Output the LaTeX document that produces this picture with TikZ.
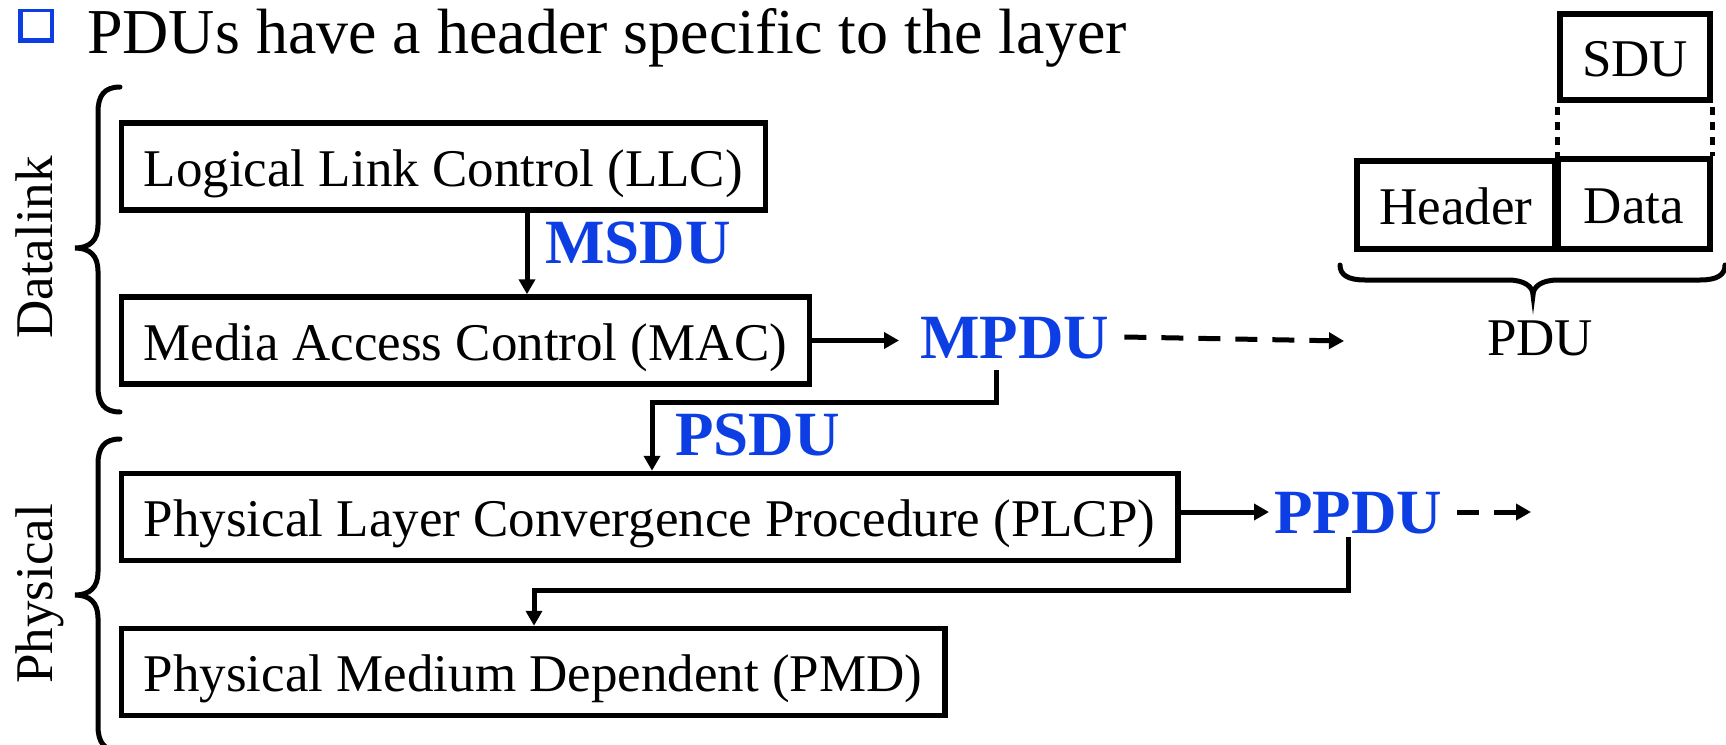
\documentclass[tikz,border=0pt]{standalone}
\usepackage{fontspec}
\setmainfont{Liberation Serif}
\usetikzlibrary{arrows.meta}
\definecolor{pblue}{RGB}{12,62,228}
\tikzset{
  layerbox/.style={draw, line width=5.5pt, font=\fontsize{53}{60}\selectfont,
    inner xsep=22.5pt, inner ysep=10pt, minimum height=87pt,
    text height=39pt, text depth=0pt, anchor=west},
  pdubox/.style={draw, line width=5.5pt, font=\fontsize{53}{60}\selectfont,
    inner xsep=0pt, inner ysep=0pt, text height=39pt, text depth=0pt},
  sidelabel/.style={font=\fontsize{53}{60}\selectfont, rotate=90, anchor=base, inner sep=0pt},
  pdulabel/.style={font=\fontsize{63}{70}\selectfont\bfseries, text=pblue,
    inner sep=0pt, text height=42pt, text depth=0pt, anchor=base west},
  arr/.style={line width=5pt, -{Triangle[length=15pt,width=16pt]}},
  dasharr/.style={arr, dash pattern=on 22pt off 15pt},
  dotline/.style={line width=5pt, dash pattern=on 8pt off 7pt, dash phase=10.5pt},
  bracepath/.style={line width=5pt, line cap=round}
}
\begin{document}
\begin{tikzpicture}[x=1pt,y=-1pt]
\useasboundingbox (0,0) rectangle (1726,744);

% bullet and title
\fill[pblue] (18,9) rectangle (54,43);
\fill[white] (23,12) rectangle (50,38);
\node[anchor=base west, inner sep=0pt, font=\fontsize{64}{72}\selectfont] (title) at (87,53) {PDUs have a header specific to the layer};

% layer boxes
\node[layerbox] (llc)  at (118.5,166.5) {Logical Link Control (LLC)};
\node[layerbox] (mac)  at (118.5,340.5) {Media Access Control (MAC)};
\node[layerbox] (plcp) at (118.5,517)   {Physical Layer Convergence Procedure (PLCP)};
\node[layerbox] (pmd)  at (118.5,672)   {Physical Medium Dependent (PMD)};

% side labels and braces
\node[sidelabel] (dl) at (52,247.5) {Datalink};
\node[sidelabel] (ph) at (52,594) {Physical};
\draw[bracepath] (120,87) .. controls (104,87) and (98,96) .. (98,112) -- (98,225)
  .. controls (98,240) and (90,248) .. (75,248) .. controls (90,248) and (98,256) .. (98,271)
  -- (98,387) .. controls (98,403) and (104,412) .. (120,412);
\draw[bracepath] (120,439) .. controls (104,439) and (98,448) .. (98,464) -- (98,572)
  .. controls (98,587) and (90,595) .. (75,595) .. controls (90,595) and (98,603) .. (98,618)
  -- (98,726) .. controls (98,742) and (104,751) .. (120,751);

% PDU labels
\node[pdulabel] (msdu) at (545,263) {MSDU};
\node[pdulabel] (mpdu) at (920,358) {MPDU};
\node[pdulabel] (psdu) at (675,455) {PSDU};
\node[pdulabel] (ppdu) at (1274,533) {PPDU};

% connectors
\draw[arr] ([xshift=408.5pt]llc.south west) -- ([xshift=408.5pt]mac.north west);
\draw[arr, shorten >=21pt] (mac.east) -- (mac.east -| mpdu.west);
\coordinate (mpduout) at (1344,341);
\draw[dasharr] ([xshift=15pt]mpdu.east) -- (mpduout);
\draw[arr] ([xshift=76pt,yshift=-12pt]mpdu.south west) -- ++(0,32) -| ([xshift=533.5pt]plcp.north west);
\draw[arr, shorten >=5pt] (plcp.east |- ppdu.west) -- (ppdu.west);
\coordinate (ppduout) at (1531,512);
\draw[dasharr] ([xshift=15pt]ppdu.east) -- (ppduout);
\draw[arr] ([xshift=74pt,yshift=-4pt]ppdu.south west) -- ++(0,53) -| ([xshift=415.5pt]pmd.north west);

% PDU structure
\node[pdubox, minimum width=150pt, minimum height=86pt] (sdu) at (1635,57) {SDU};
\node[pdubox, minimum width=198pt, minimum height=88pt] (hdr) at (1456,205) {Header};
\node[pdubox, minimum width=152pt, minimum height=90pt] (data) at (1634,204) {Data};
\draw[dotline] (sdu.south west) -- (sdu.south west |- data.north);
\draw[dotline] (sdu.south east) -- (sdu.south east |- data.north);
\draw[bracepath] (1340,265) .. controls (1340,275) and (1348,280) .. (1365,280) -- (1508,280)
  .. controls (1525,280) and (1533,287) .. (1533,295) .. controls (1533,287) and (1541,280) .. (1558,280)
  -- (1700,280) .. controls (1717,280) and (1725,275) .. (1725,265);
\node[anchor=base, inner sep=0pt, font=\fontsize{53}{60}\selectfont] (pdu) at (1540,355) {PDU};
\end{tikzpicture}
\end{document}
